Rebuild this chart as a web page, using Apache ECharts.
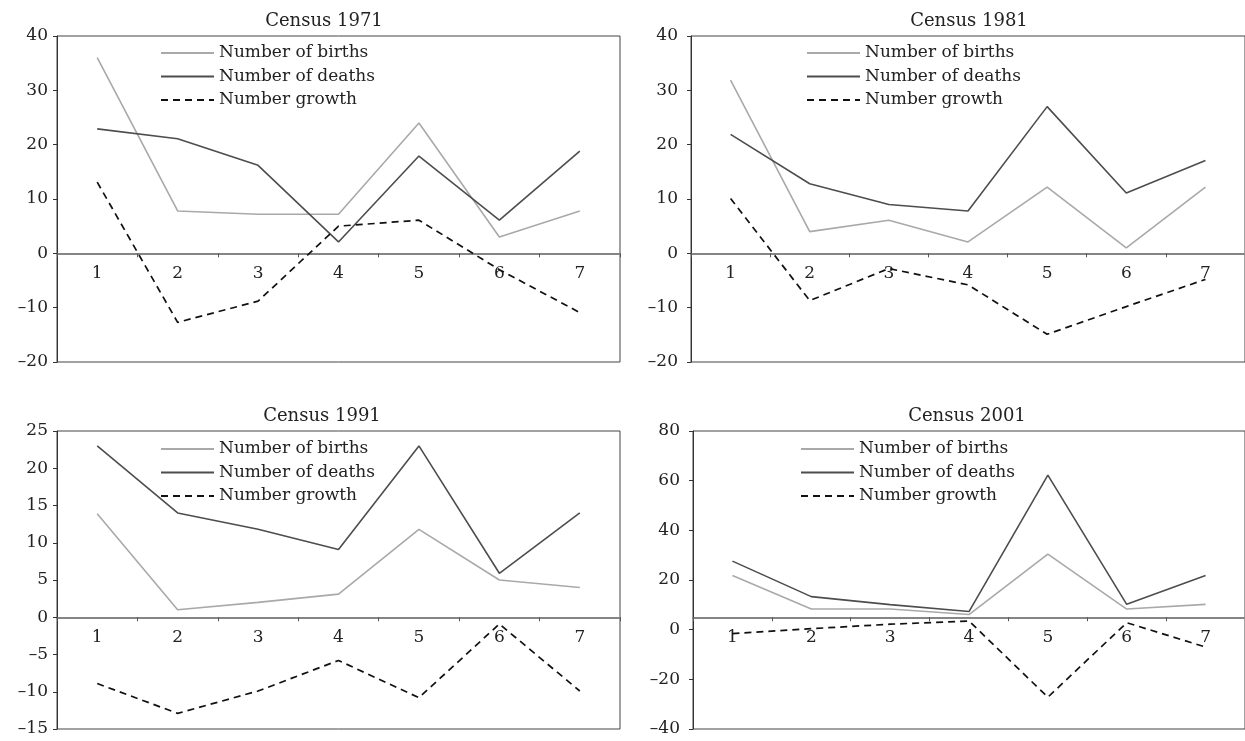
<!DOCTYPE html>
<html>
<head>
<meta charset="utf-8">
<script src="https://cdn.jsdelivr.net/npm/echarts@6/dist/echarts.min.js"></script>
<style>
html,body{margin:0;padding:0;background:#fff;}
#chart{width:1245px;height:741px;}
</style>
</head>
<body>
<div id="chart"></div>
<script>
// ---- data ----
const categories = ['1', '2', '3', '4', '5', '6', '7'];
const seriesNames = ['Number of births', 'Number of deaths', 'Number growth'];
const panelTitles = ['Census 1971', 'Census 1981', 'Census 1991', 'Census 2001'];

const births1971 = [36, 7.8, 7.2, 7.2, 24, 3, 7.8];
const deaths1971 = [22.9, 21.1, 16.2, 2.1, 17.9, 6.1, 18.8];
const growth1971 = [13.1, -12.7, -8.8, 5.0, 6.1, -3, -10.9];

const births1981 = [31.9, 4.0, 6.1, 2.1, 12.2, 1.0, 12.2];
const deaths1981 = [21.9, 12.8, 9.0, 7.8, 27.0, 11.1, 17.1];
const growth1981 = [10.1, -8.7, -2.8, -5.8, -14.9, -9.8, -4.8];

const births1991 = [13.9, 1.0, 2.0, 3.1, 11.8, 5.0, 4.0];
const deaths1991 = [23.0, 14.0, 11.8, 9.1, 23.0, 5.9, 14.0];
const growth1991 = [-8.9, -12.9, -9.9, -5.8, -10.8, -0.9, -9.9];

const births2001 = [21.8, 8.3, 8.3, 6.1, 30.4, 8.3, 10.2];
const deaths2001 = [27.6, 13.3, 10.1, 7.3, 62.2, 10.2, 21.8];
const growth2001 = [-1.6, 0.4, 2.2, 3.5, -27.2, 2.8, -7.0];

const yMin = [-20, -20, -15, -40];
const yMax = [40, 40, 25, 80];
const yStep = [10, 10, 5, 20];
const xCross = [0, 0, 0, 5]; // value at which the category axis crosses each panel

const panelData = [
  [births1971, deaths1971, growth1971],
  [births1981, deaths1981, growth1981],
  [births1991, deaths1991, growth1991],
  [births2001, deaths2001, growth2001]
];

// ---- layout / style ----
const FONT = '"DejaVu Serif", serif';
const grids = [
  {left: 57, top: 36, width: 563, height: 326},
  {left: 691, top: 36, width: 563, height: 326},
  {left: 57, top: 431, width: 563, height: 298},
  {left: 693, top: 431, width: 563, height: 298}
];
const titlePos = [[324, 21], [969, 21], [322, 416], [967, 416]];
const legendPos = [[160, 43], [806, 43], [160, 439], [800, 439]];
const labelMargin = [9, 13, 9, 13];
const lineStyles = [
  {color: '#a9a9a9', width: 1.6, type: 'solid'},
  {color: '#4d4d4d', width: 1.6, type: 'solid'},
  {color: '#111111', width: 1.7, type: [7, 5]}
];

const option = {
  animation: false,
  backgroundColor: '#fff',
  grid: grids.map(g => Object.assign({show: true, borderColor: '#444', borderWidth: 1, backgroundColor: 'transparent', containLabel: false}, g)),
  graphic: panelTitles.map((t, i) => ({
    type: 'text', x: titlePos[i][0], y: titlePos[i][1], silent: true,
    style: {text: t, fontSize: 18, fontFamily: FONT, fill: '#222', align: 'center', verticalAlign: 'middle'}
  })),
  legend: legendPos.map(p => ({
    data: seriesNames, orient: 'vertical', left: p[0], top: p[1], padding: 0,
    itemWidth: 53, itemHeight: 1, itemGap: 3.5,
    itemStyle: {opacity: 0},
    textStyle: {fontFamily: FONT, fontSize: 17, color: '#222', lineHeight: 20},
    selectedMode: false
  })),
  xAxis: grids.map((g, i) => ({
    type: 'category', gridIndex: i, data: categories, boundaryGap: true,
    // the axis is shifted up from the grid bottom to the crossing value
    offset: -g.height * (xCross[i] - yMin[i]) / (yMax[i] - yMin[i]),
    axisLine: {show: true, onZero: false, lineStyle: {color: '#858585', width: 2}},
    axisTick: {show: true, length: 4, alignWithLabel: false, lineStyle: {color: '#555'}},
    axisLabel: {fontFamily: FONT, fontSize: 17, color: '#222', margin: 12},
    splitLine: {show: false}
  })),
  yAxis: grids.map((g, i) => ({
    type: 'value', gridIndex: i, min: yMin[i], max: yMax[i], interval: yStep[i],
    axisLine: {show: true, onZero: false, lineStyle: {color: '#333', width: 1}},
    axisTick: {show: true, length: 4, lineStyle: {color: '#333'}},
    axisLabel: {fontFamily: FONT, fontSize: 17, color: '#222', margin: labelMargin[i],
      formatter: v => String(v).replace('-', '\u2013')},
    splitLine: {show: false}
  })),
  series: []
};

panelData.forEach((arrs, i) => {
  arrs.forEach((vals, k) => {
    option.series.push({
      type: 'line', name: seriesNames[k], data: vals,
      xAxisIndex: i, yAxisIndex: i,
      symbol: 'none', showSymbol: false, smooth: false,
      lineStyle: lineStyles[k], itemStyle: {color: lineStyles[k].color},
      z: k === 2 ? 4 : 3
    });
  });
});

const chart = echarts.init(document.getElementById('chart'), null, {renderer: 'canvas'});
chart.setOption(option);
</script>
</body>
</html>
